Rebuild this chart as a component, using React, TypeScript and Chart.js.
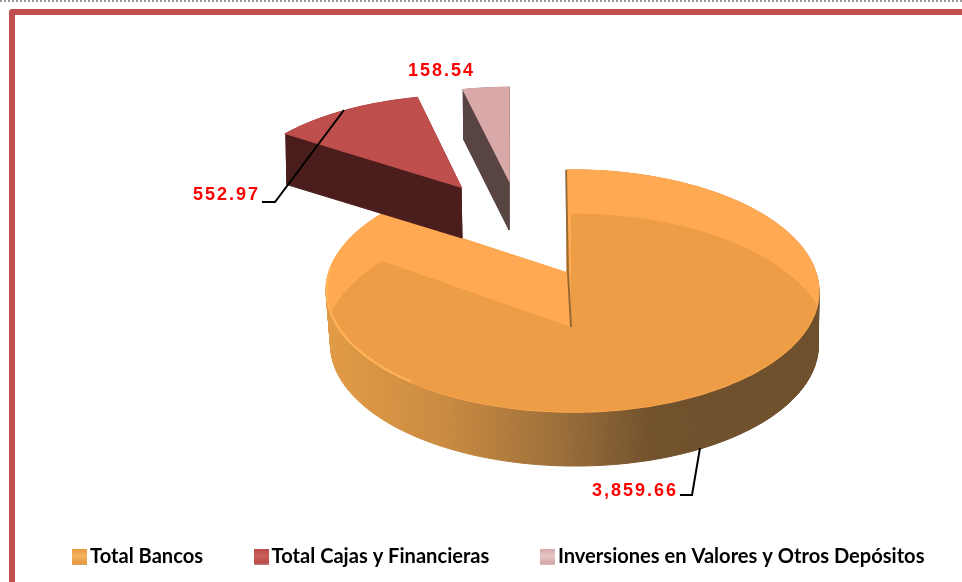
import React, { useEffect, useRef } from "react";
import { Chart, registerables } from "chart.js";

Chart.register(...registerables);

const categories = ["Total Bancos", "Total Cajas y Financieras", "Inversiones en Valores y Otros Depósitos"];
const values = [3859.66, 552.97, 158.54];

const sliceStyles = [
  { ax: 567, ay: 273, s: 1, sy: 1, dx: 2, dy: 54, top: "#FFA952", side: "" },
  { ax: 461, ay: 187, s: 0.955, sy: 0.89, dx: 1, dy: 51, top: "#BE4F4C", side: "#4B1D1D" },
  { ax: 509, ay: 180, s: 1.0, sy: 0.9, dx: 0, dy: 50, top: "#D9A8A8", side: "#584542" },
];
const labelStyles = [
  { x: 678, y: 491, leader: [[680, 495], [692, 495], [700, 448]] },
  { x: 260, y: 195, leader: [[262, 202], [275, 202], [344, 110]] },
  { x: 475, y: 71, leader: null },
];
const swatches = [
  ["#F5B562", "#E9993F", "#D9A265"],
  ["#C9605C", "#BC4B48", "#B58080"],
  ["#E8C8C8", "#D6A8A8", "#D9C0C0"],
];

const K = 0.149, M = 0.022, RX = 243.5, RY = 118.3;
function proj(theta: number, s: number, ax: number, ay: number, sy = s) {
  const u = Math.sin(theta), v = -Math.cos(theta);
  const w = 1 - K * v - M * u;
  return [ax + (s * RX * u) / w, ay + (sy * RY * v) / w];
}
function arcPts(a0: number, a1: number, s: number, ax: number, ay: number, sy = s) {
  const pts: number[][] = [];
  const n = Math.max(4, Math.ceil(((a1 - a0) * 180) / Math.PI));
  for (let i = 0; i <= n; i++) pts.push(proj(a0 + ((a1 - a0) * i) / n, s, ax, ay, sy));
  return pts;
}
function poly(ctx: CanvasRenderingContext2D, pts: number[][]) {
  ctx.beginPath();
  pts.forEach((p, i) => (i ? ctx.lineTo(p[0], p[1]) : ctx.moveTo(p[0], p[1])));
  ctx.closePath();
}

function makeSwatch(c: string[]) {
  const cv = document.createElement("canvas");
  cv.width = 15;
  cv.height = 16;
  const x = cv.getContext("2d")!;
  const g = x.createLinearGradient(0, 0, 0, 16);
  g.addColorStop(0, c[1]);
  g.addColorStop(0.45, c[0]);
  g.addColorStop(0.85, c[1]);
  g.addColorStop(1, c[2]);
  x.fillStyle = g;
  x.fillRect(0, 0, 15, 16);
  return cv;
}

const pie3d = {
  id: "pie3d",
  beforeDraw(chart: any) {
    const ctx: CanvasRenderingContext2D = chart.ctx;
    ctx.save();
    ctx.fillStyle = "#ffffff";
    ctx.fillRect(0, 0, 962, 582);
    ctx.strokeStyle = "#9a9a9a";
    ctx.lineWidth = 2;
    ctx.setLineDash([2, 2]);
    ctx.beginPath();
    ctx.moveTo(0, 1);
    ctx.lineTo(962, 1);
    ctx.stroke();
    ctx.setLineDash([]);
    ctx.strokeStyle = "#C0504D";
    ctx.lineWidth = 6;
    ctx.lineJoin = "round";
    ctx.beginPath();
    ctx.moveTo(12, 590);
    ctx.lineTo(12, 12);
    ctx.lineTo(970, 12);
    ctx.stroke();
    ctx.restore();
  },
  beforeDatasetsDraw(chart: any) {
    const ctx: CanvasRenderingContext2D = chart.ctx;
    const arcs = chart.getDatasetMeta(0).data;
    ctx.save();
    arcs.forEach((arc: any, i: number) => {
      const st = sliceStyles[i];
      const a0 = arc.startAngle + Math.PI / 2;
      const a1 = arc.endAngle + Math.PI / 2;
      const rim = arcPts(a0, a1, st.s, st.ax, st.ay, st.sy);
      const face = [[st.ax, st.ay], ...rim];

      let sideFill: any = st.side;
      if (!st.side) {
        const g = ctx.createLinearGradient(327, 0, 818, 0);
        g.addColorStop(0, "#E29B46");
        g.addColorStop(0.25, "#C98A41");
        g.addColorStop(0.48, "#9A6E3A");
        g.addColorStop(0.66, "#72522D");
        g.addColorStop(1, "#6E4F2C");
        sideFill = g;
      }
      ctx.fillStyle = sideFill;
      ctx.strokeStyle = sideFill;
      ctx.lineWidth = 1;
      // extruded wall: every edge of the top face is swept downwards
      for (let j = 0; j < face.length; j++) {
        const p = face[j];
        const q = face[(j + 1) % face.length];
        const sx = st.s === 1 ? 0.99 : 1;
        const shift = (pt: number[]) => [
          st.ax + st.dx + (pt[0] - st.ax) * sx,
          pt[1] + st.dy,
        ];
        poly(ctx, [p, q, shift(q), shift(p)]);
        ctx.fill();
        ctx.stroke();
      }

      // top face
      poly(ctx, face);
      ctx.fillStyle = st.top;
      ctx.strokeStyle = st.top;
      ctx.lineWidth = 1.5;
      ctx.fill();
      ctx.stroke();

      if (i === 0) {
        // inner shaded area of the big slice
        ctx.save();
        poly(ctx, face);
        ctx.clip();
        const inner = [[st.ax + 4, st.ay + 54], ...arcPts(a0, a1, 1.03, st.ax + 4, st.ay + 54, 1.1)];
        poly(ctx, inner);
        ctx.fillStyle = "#EC9D46";
        ctx.fill();
        ctx.restore();
        // thin light edge on the lower left of the rim
        ctx.strokeStyle = "#FFB458";
        ctx.lineWidth = 2;
        ctx.beginPath();
        arcPts((215 * Math.PI) / 180, (272 * Math.PI) / 180, 0.997, st.ax, st.ay).forEach((p, j) =>
          j ? ctx.lineTo(p[0], p[1]) : ctx.moveTo(p[0], p[1])
        );
        ctx.stroke();
        // cut face seen edge-on
        ctx.strokeStyle = "rgba(110,80,40,0.7)";
        ctx.lineWidth = 2;
        ctx.beginPath();
        ctx.moveTo(566, 170);
        ctx.lineTo(568, 273);
        ctx.lineTo(571, 327);
        ctx.stroke();
      }
    });
    ctx.restore();
    return false;
  },
  afterDraw(chart: any) {
    const ctx: CanvasRenderingContext2D = chart.ctx;
    ctx.save();
    labelStyles.forEach((l, i) => {
      if (l.leader) {
        ctx.strokeStyle = "#000000";
        ctx.lineWidth = 2;
        ctx.beginPath();
        l.leader.forEach((p, j) => (j ? ctx.lineTo(p[0], p[1]) : ctx.moveTo(p[0], p[1])));
        ctx.stroke();
      }
      ctx.font = 'bold 18px "Liberation Sans"';
      (ctx as any).letterSpacing = "2px";
      ctx.fillStyle = "#FF0000";
      ctx.textAlign = "right";
      ctx.textBaseline = "middle";
      const txt = values[i].toLocaleString("en-US", { minimumFractionDigits: 2 });
      ctx.fillText(txt, l.x, l.y);
    });
    ctx.restore();
  },
};

export default function App() {
  const ref = useRef<HTMLCanvasElement>(null);
  useEffect(() => {
    const images = swatches.map(makeSwatch);
    const chart = new Chart(ref.current!, {
      type: "pie",
      data: {
        labels: categories,
        datasets: [{ data: values, backgroundColor: sliceStyles.map((s) => s.top), borderWidth: 0 }],
      },
      plugins: [pie3d as any],
      options: {
        responsive: false,
        animation: false,
        layout: { padding: { left: 21.5, right: -30, top: 60, bottom: 5 } },
        plugins: {
          tooltip: { enabled: false },
          legend: {
            position: "bottom",
            align: "start",
            labels: {
              usePointStyle: true,
              pointStyleWidth: 1,
              padding: 57.5,
              color: "#000000",
              font: { family: "Lato", weight: "bold", size: 20.1 },
              generateLabels: () =>
                categories.map((text, index) => ({
                  text,
                  index,
                  pointStyle: images[index],
                  fillStyle: sliceStyles[index].top,
                  strokeStyle: "transparent",
                  lineWidth: 0,
                  hidden: false,
                })) as any,
            },
          },
        },
      } as any,
    });
    return () => chart.destroy();
  }, []);
  return (
    <canvas
      ref={ref}
      width={962}
      height={582}
      style={{ position: "fixed", left: 0, top: 0, display: "block" }}
    />
  );
}
